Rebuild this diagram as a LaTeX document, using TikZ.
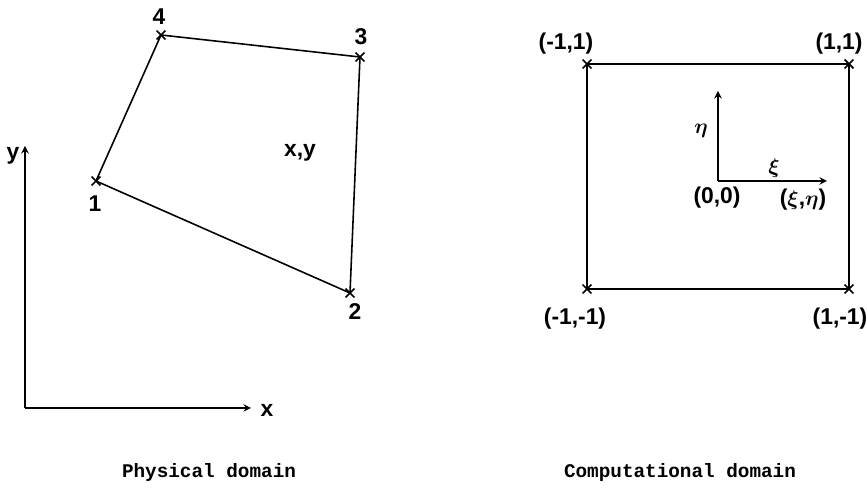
\documentclass[tikz,border=0pt]{standalone}
\usepackage{amsmath}
\usepackage{fontspec}
\setmainfont{Liberation Sans}
\setmonofont{Liberation Mono}
\usetikzlibrary{shapes.misc}
\begin{document}
\begin{tikzpicture}[>=stealth, x=0.02cm, y=-0.02cm, line width=0.9pt,
  crossmark/.style={draw, cross out, minimum size=4pt, inner sep=0pt, line width=1pt},
  lbl/.style={font=\bfseries\fontsize{13}{15}\selectfont, inner sep=1pt},
  domcaption/.style={font=\ttfamily\bfseries\fontsize{11}{13}\selectfont}]
\useasboundingbox (0,0) rectangle (867,489);
% physical domain
\coordinate (p1) at (96,181);
\coordinate (p2) at (350,293);
\coordinate (p3) at (360,57);
\coordinate (p4) at (161,35);
\draw (p1) -- (p2) -- (p3) -- (p4) -- cycle;
\foreach \p in {p1,p2,p3,p4} \node[crossmark] at (\p) {};
\node[lbl] (l1) at (95,204) {1};
\node[lbl] (l2) at (355,312) {2};
\node[lbl] (l3) at (361,37) {3};
\node[lbl] (l4) at (159,17) {4};
\node[lbl] (xy) at (300,153) {x,y};
\coordinate (o) at (25,408);
\node[lbl] (ylab) at (13,156) {y};
\node[lbl] (xlab) at (267,410) {x};
\draw[->] (o) -- (25,146);
\draw[->] (o) -- (251,408);
\node[domcaption] (phys) at (209,473) {Physical domain};
% computational domain
\coordinate (c1) at (587,289);
\coordinate (c2) at (849,289);
\coordinate (c3) at (849,64);
\coordinate (c4) at (587,64);
\draw (c1) -- (c2) -- (c3) -- (c4) -- cycle;
\foreach \p in {c1,c2,c3,c4} \node[crossmark] at (\p) {};
\node[lbl] (m1) at (575,319) {(-1,-1)};
\node[lbl] (m2) at (840,319) {(1,-1)};
\node[lbl] (m3) at (839,44) {(1,1)};
\node[lbl] (m4) at (566,44) {(-1,1)};
\coordinate (c0) at (718,181);
\draw[->] (c0) -- (718,91);
\draw[->] (c0) -- (827,181);
\node[lbl] (eta) at (701,131) {$\boldsymbol{\eta}$};
\node[lbl] (xi) at (774,168) {$\boldsymbol{\xi}$};
\node[lbl] (zero) at (717,198) {(0,0)};
\node[lbl] (xieta) at (803,200) {($\boldsymbol{\xi}$,$\boldsymbol{\eta}$)};
\node[domcaption] (comp) at (680,473) {Computational domain};
\end{tikzpicture}
\end{document}
